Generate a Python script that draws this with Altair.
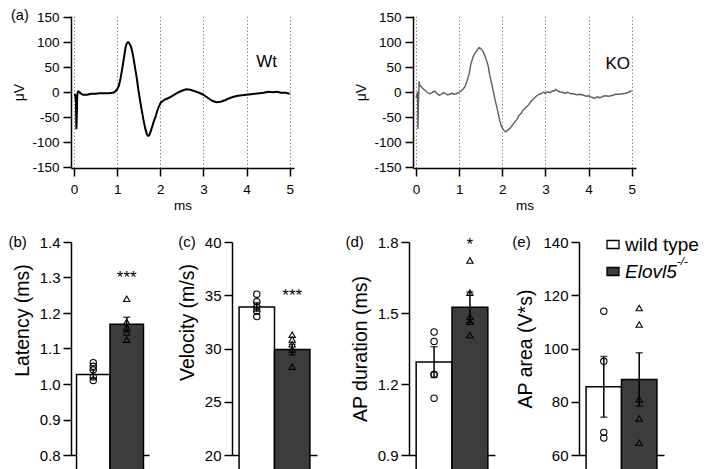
import altair as alt
import pandas as pd

FONT = "Liberation Sans"

# ---------------- (a) compound action potential traces ----------------
wt_t = [0.00, 0.03, 0.045, 0.055, 0.065, 0.075, 0.085, 0.10, 0.12, 0.15, 0.20, 0.30, 0.40, 0.50,
        0.60, 0.70, 0.80, 0.90, 0.95, 1.00, 1.04, 1.08, 1.12, 1.16, 1.19, 1.22, 1.25, 1.28, 1.31,
        1.34, 1.38, 1.42, 1.46, 1.49, 1.53, 1.57, 1.61, 1.65, 1.69, 1.72, 1.75, 1.80, 1.85, 1.90,
        1.95, 2.00, 2.05, 2.10, 2.20, 2.30, 2.40, 2.50, 2.60, 2.70, 2.80, 2.90, 3.00, 3.10, 3.20,
        3.30, 3.40, 3.50, 3.60, 3.70, 3.80, 3.90, 4.00, 4.10, 4.20, 4.30, 4.40, 4.50, 4.60, 4.70,
        4.80, 4.90, 5.00]
wt_uv = [-5, -5, -20, -72, -45, -8, 0, 2, 1, -2, -5, -5, -3, -3,
         -2, -2, -2, -1, 1, 6, 13, 28, 48, 70, 87, 97, 100, 98, 93,
         85, 68, 46, 25, 6, -16, -36, -55, -72, -84, -87, -85, -72, -58, -46,
         -32, -22, -18, -15, -11, -6, -1, 3, 6, 5, 2, -1, -5, -11, -17,
         -20, -19, -16, -12, -9, -7, -6, -5, -4, -3, -2, -1, 1, 0, 1,
         -1, -1, -3]

ko_t = [0.00, 0.02, 0.035, 0.045, 0.055, 0.07, 0.09, 0.11, 0.15, 0.21, 0.26, 0.30, 0.33, 0.38,
        0.44, 0.48, 0.52, 0.55, 0.60, 0.63, 0.67, 0.72, 0.78, 0.83, 0.88, 0.93, 0.98, 1.04,
        1.09, 1.14, 1.18, 1.23, 1.27, 1.32, 1.36, 1.40, 1.44, 1.47, 1.50, 1.55, 1.60, 1.64,
        1.67, 1.70, 1.73, 1.76, 1.80, 1.84, 1.88, 1.92, 1.97, 2.02, 2.07, 2.12, 2.18, 2.23,
        2.29, 2.34, 2.38, 2.43, 2.48, 2.54, 2.59, 2.64, 2.70, 2.75, 2.80, 2.85, 2.90, 2.95,
        3.00, 3.05, 3.11, 3.16, 3.20, 3.24, 3.28, 3.33, 3.39, 3.45, 3.52, 3.58, 3.65, 3.72,
        3.80, 3.88, 3.95, 4.01, 4.07, 4.14, 4.20, 4.26, 4.33, 4.40, 4.47, 4.56, 4.63, 4.70,
        4.79, 4.86, 4.93, 5.00]
ko_uv = [-11, -5, 0, -72, -30, 21, 14, 12, 8, 4, 0, -2, -3, 0,
         2, -2, -5, -6, -3, -1, -2, -5, -4, -2, -4, -3, -1, 2,
         6, 12, 22, 36, 55, 70, 77, 82, 87, 89, 87, 82, 72, 62,
         54, 38, 26, 15, -2, -18, -32, -48, -66, -74, -79, -76, -72, -66,
         -59, -54, -47, -43, -36, -31, -27, -21, -15, -11, -7, -4, -3, 0,
         -2, 1, -1, 3, 2, 6, 3, 1, 0, -2, 0, -3, -3, -5,
         -4, -6, -8, -7, -10, -12, -9, -11, -8, -7, -8, -6, -4, -4,
         -3, -2, 0, 3]

trace_x_ticks = [0, 1, 2, 3, 4, 5]
trace_y_ticks = [-150, -100, -50, 0, 50, 100, 150]

# ---------------- (b)-(e) bar panels ----------------
groups = ["wild type", "Elovl5-/-"]

lat_mean = [1.027, 1.168]
lat_sem = [0.012, 0.020]
lat_wt = [1.06, 1.05, 1.04, 1.02, 1.01]
lat_ko = [1.24, 1.175, 1.16, 1.145, 1.125]
lat_ticks = [0.8, 0.9, 1.0, 1.1, 1.2, 1.3, 1.4]

vel_mean = [33.9, 29.9]
vel_sem = [0.4, 0.5]
vel_wt = [35.1, 34.4, 33.9, 33.5, 33.0]
vel_ko = [31.3, 30.85, 30.4, 29.9, 28.3]
vel_ticks = [20, 25, 30, 35, 40]

dur_mean = [1.293, 1.524]
dur_sem = [0.065, 0.065]
dur_wt = [1.42, 1.38, 1.24, 1.24, 1.14]
dur_ko = [1.722, 1.586, 1.484, 1.463, 1.407]
dur_ticks = [0.9, 1.2, 1.5, 1.8]

area_mean = [85.6, 88.4]
area_sem = [11.4, 10.0]
area_wt = [114.0, 95.2, 68.5, 66.4]
area_ko = [115.2, 109.0, 81.0, 73.7, 64.6]
area_ticks = [60, 80, 100, 120, 140]

sig_text = ["***", "***", "*", ""]
sig_y = [1.308, 35.2, 1.80, 100]

bar_fill = ["white", "#3c3c3c"]
point_shape = ["circle", "triangle-up"]

HYPHEN = "replace(datum.label, '\u2212', '-')"


def trace_panel(t, uv, color, sw, name, name_x, name_y, letter):
    df = pd.DataFrame({"t": t, "uv": uv})
    xs = alt.Scale(domain=[-0.07, 5.1], nice=False, zero=False)
    ys = alt.Scale(domain=[-151, 152], nice=False, zero=False)
    line = alt.Chart(df).mark_line(color=color, strokeWidth=sw, strokeJoin="round").encode(
        x=alt.X("t:Q", scale=xs, axis=alt.Axis(
            values=trace_x_ticks, tickCount=len(trace_x_ticks), title="ms", grid=True,
            gridDash=[1.5, 2], gridColor="#8a8a8a", gridWidth=1, tickSize=8, tickWidth=1.5,
            domainWidth=1.5, labelPadding=6, labelFontSize=13.5, titleFontSize=13.5,
            titlePadding=3, labelFlush=False, labelOverlap=False)),
        y=alt.Y("uv:Q", scale=ys, axis=alt.Axis(
            values=trace_y_ticks, tickCount=len(trace_y_ticks), title="\u03bcV", grid=False,
            tickSize=8, tickWidth=1.5, domainWidth=1.5, labelPadding=4, labelFontSize=13.5,
            titleFontSize=14, titlePadding=5, labelFlush=False, labelOverlap=False,
            labelExpr=HYPHEN)),
    )
    layers = [line]
    name_df = pd.DataFrame({"s": [name]})
    layers.append(alt.Chart(name_df).mark_text(
        fontSize=17, align="right", baseline="middle", font=FONT, color="black").encode(
        x=alt.value(name_x), y=alt.value(name_y), text="s:N"))
    if letter:
        layers.append(alt.Chart(pd.DataFrame({"s": [letter]})).mark_text(
            fontSize=14.5, align="left", baseline="middle", font=FONT, color="black").encode(
            x=alt.value(-60), y=alt.value(0), text="s:N"))
    return alt.layer(*layers).properties(width=223, height=152)


def bar_panel(means, sems, wt_pts, ko_pts, sig, sigy, domain, ticks, fmt, title, letter,
              letter_x, width, pad_outer, title_y=None, legend=False):
    H = 213
    bdf = pd.DataFrame({
        "g": groups,
        "mean": means,
        "lo": [m - s for m, s in zip(means, sems)],
        "hi": [m + s for m, s in zip(means, sems)],
    })
    pdf = pd.DataFrame({
        "g": [groups[0]] * len(wt_pts) + [groups[1]] * len(ko_pts),
        "v": wt_pts + ko_pts,
    })
    xenc = alt.X("g:N", sort=groups,
                 scale=alt.Scale(domain=groups, paddingInner=0, paddingOuter=pad_outer),
                 axis=alt.Axis(labels=False, ticks=False, title=None, domainWidth=1.5,
                               domainColor="black"))
    ys = alt.Scale(domain=domain, nice=False, zero=False)
    yaxis_kwargs = dict(values=ticks, tickCount=len(ticks), title=title, format=fmt, grid=False,
                        tickSize=8, tickWidth=1.5, domainWidth=1.5, labelPadding=3,
                        labelFontSize=15, titleFontSize=19.5, titlePadding=7, labelFlush=False,
                        labelOverlap=False)
    if title_y is not None:
        yaxis_kwargs["titleY"] = title_y
    bars = alt.Chart(bdf).mark_bar(stroke="black", strokeWidth=1.5).encode(
        x=xenc,
        y=alt.Y("mean:Q", scale=ys, axis=alt.Axis(**yaxis_kwargs)),
        y2=alt.value(H),
        fill=alt.Fill("g:N", scale=alt.Scale(domain=groups, range=bar_fill), legend=None),
    )
    err = alt.Chart(bdf).mark_rule(color="black", strokeWidth=1.5).encode(
        x=alt.X("g:N", sort=groups), y="lo:Q", y2="hi:Q")
    cap_lo = alt.Chart(bdf).mark_tick(color="black", thickness=1.5, size=7).encode(
        x=alt.X("g:N", sort=groups), y="lo:Q")
    cap_hi = alt.Chart(bdf).mark_tick(color="black", thickness=1.5, size=7).encode(
        x=alt.X("g:N", sort=groups), y="hi:Q")
    pts = alt.Chart(pdf).mark_point(filled=False, color="black", strokeWidth=1.1, size=40,
                                    opacity=1).encode(
        x=alt.X("g:N", sort=groups), y="v:Q",
        shape=alt.Shape("g:N", scale=alt.Scale(domain=groups, range=point_shape), legend=None),
    )
    layers = [bars, err, cap_lo, cap_hi, pts]
    if sig:
        sdf = pd.DataFrame({"g": [groups[1]], "v": [sigy], "s": [sig]})
        layers.append(alt.Chart(sdf).mark_text(fontSize=17, font=FONT, color="black",
                                               baseline="middle", dy=3).encode(
            x=alt.X("g:N", sort=groups), y="v:Q", text="s:N"))
    layers.append(alt.Chart(pd.DataFrame({"s": [letter]})).mark_text(
        fontSize=15, align="left", baseline="middle", font=FONT, color="black").encode(
        x=alt.value(letter_x), y=alt.value(0), text="s:N"))
    if legend:
        ldf = pd.DataFrame({"s": [0]})
        layers.append(alt.Chart(ldf).mark_rect(fill="white", stroke="black", strokeWidth=1.3).encode(
            x=alt.value(28), x2=alt.value(40), y=alt.value(-1.5), y2=alt.value(6.5)))
        layers.append(alt.Chart(ldf).mark_rect(fill="#3c3c3c", stroke="black", strokeWidth=1.3).encode(
            x=alt.value(28), x2=alt.value(40), y=alt.value(25.5), y2=alt.value(33.5)))
        layers.append(alt.Chart(pd.DataFrame({"s": ["wild type"]})).mark_text(
            fontSize=19, align="left", baseline="middle", font=FONT, color="black").encode(
            x=alt.value(46), y=alt.value(2.5), text="s:N"))
        layers.append(alt.Chart(pd.DataFrame({"s": ["Elovl5"]})).mark_text(
            fontSize=19, align="left", baseline="middle", font=FONT, fontStyle="italic",
            color="black").encode(x=alt.value(46), y=alt.value(30), text="s:N"))
        layers.append(alt.Chart(pd.DataFrame({"s": ["-/-"]})).mark_text(
            fontSize=11.5, align="left", baseline="middle", font=FONT, fontStyle="italic",
            color="black").encode(x=alt.value(98), y=alt.value(19.5), text="s:N"))
    return alt.layer(*layers).properties(width=width, height=H)


p1 = trace_panel(wt_t, wt_uv, "black", 2.0, "Wt", 206, 45.5, "(a)")
p2 = trace_panel(ko_t, ko_uv, "#5e5e5e", 1.4, "KO", 217, 47.5, None)

pb = bar_panel(lat_mean, lat_sem, lat_wt, lat_ko, sig_text[0], sig_y[0], [0.8, 1.4], lat_ticks,
               ".1f", "Latency (ms)", "(b)", -62.5, 78, 0.165, title_y=78)
pc = bar_panel(vel_mean, vel_sem, vel_wt, vel_ko, sig_text[1], sig_y[1], [20, 40], vel_ticks,
               "d", "Velocity (m/s)", "(c)", -53.7, 85, 0.2, title_y=80)
pd_ = bar_panel(dur_mean, dur_sem, dur_wt, dur_ko, sig_text[2], sig_y[2], [0.9, 1.8], dur_ticks,
                ".1f", "AP duration (ms)", "(d)", -63.5, 86, 0.2)
pe = bar_panel(area_mean, area_sem, area_wt, area_ko, sig_text[3], sig_y[3], [60, 140], area_ticks,
               "d", "AP area (V*s)", "(e)", -66.7, 85, 0.2, legend=True)

top = alt.hconcat(p1, p2, spacing=119, bounds="flush")
left_pair = alt.hconcat(pb, pc, spacing=83, bounds="flush")
right_pair = alt.hconcat(pd_, pe, spacing=84, bounds="flush")
bottom = alt.hconcat(left_pair, right_pair, spacing=28)

chart = alt.vconcat(top, bottom, spacing=23).properties(padding=0).configure_view(
    stroke=None).configure_axis(
    labelFont=FONT, titleFont=FONT, labelColor="black", titleColor="black",
    domainColor="black", tickColor="black", titleFontWeight="normal").configure_text(font=FONT)

chart.save("out.html", embed_options={"renderer": "svg", "actions": False})
